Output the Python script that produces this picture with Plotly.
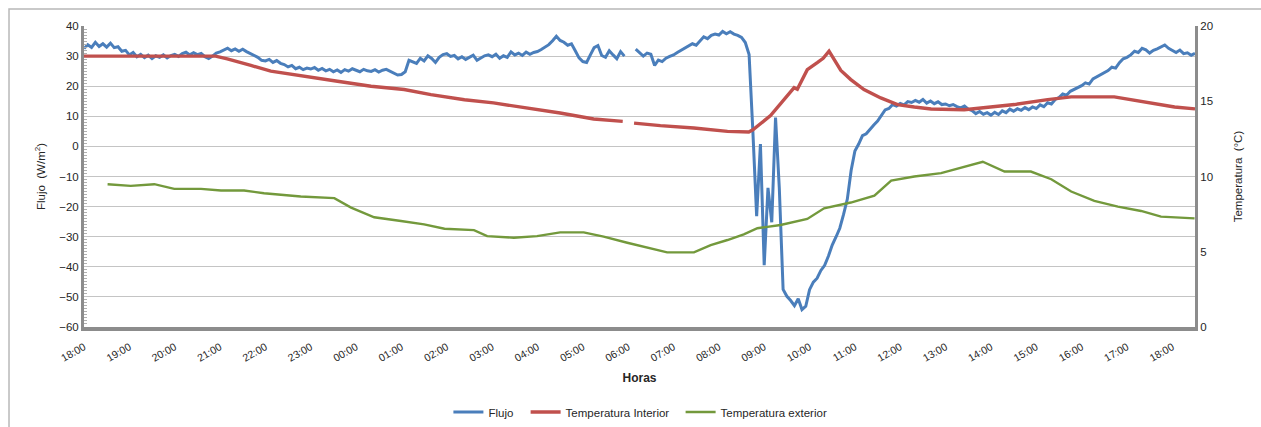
import plotly.graph_objects as go

# Etiquetas horarias del eje X (una por hora, desde las 18:00 hasta las 18:00 del día siguiente)
tick_labels = ["18:00", "19:00", "20:00", "21:00", "22:00", "23:00", "00:00", "01:00",
               "02:00", "03:00", "04:00", "05:00", "06:00", "07:00", "08:00", "09:00",
               "10:00", "11:00", "12:00", "13:00", "14:00", "15:00", "16:00", "17:00", "18:00"]

# Flujo de calor (W/m²): una lectura cada 5 minutos a partir de las 18:00
flujo = [
    # 18:00
    32.5, 33.8, 32.9, 34.6, 33.2, 34.1, 33.0, 34.3, 32.8, 33.1, 31.6, 31.9,
    # 19:00
    30.4, 31.2, 29.8, 30.6, 29.5, 30.3, 29.2, 30.1, 29.6, 30.4, 29.4, 30.2,
    # 20:00
    30.6, 29.9, 30.8, 31.3, 30.4, 31.1, 30.5, 30.9, 29.8, 29.2, 30.0, 31.0,
    # 21:00
    31.4, 32.1, 32.6, 31.8, 32.4, 31.6, 32.3, 31.5, 30.9, 30.2, 29.6, 28.6,
    # 22:00
    28.4, 28.9, 27.9, 28.5, 27.6, 27.2, 26.4, 26.9, 25.8, 26.3, 25.5, 26.0,
    # 23:00
    25.7, 26.2, 25.3, 25.9, 25.1, 25.6, 24.8, 25.4, 24.6, 25.5, 25.0, 25.8,
    # 00:00
    25.2, 24.8, 25.6, 25.1, 24.9, 25.5, 24.7, 25.3, 25.6, 24.9, 24.4, 23.7,
    # 01:00
    23.9, 24.8, 28.6, 28.2, 27.6, 29.3, 28.4, 30.1, 29.2, 27.9, 29.6, 30.5,
    # 02:00
    30.8, 29.9, 30.2, 29.1, 29.8, 28.9, 29.6, 30.3, 28.6, 29.5, 30.1, 30.4,
    # 03:00
    29.8, 30.6, 29.3, 30.1, 29.6, 31.4, 30.4, 31.0, 30.2, 31.3, 30.6, 31.2,
    # 04:00
    31.5, 32.2, 32.9, 33.8, 35.1, 36.6, 35.2, 34.6, 33.6, 34.1, 31.8, 29.4,
    # 05:00
    28.2, 27.9, 30.4, 32.8, 33.5, 30.2, 29.6, 31.8, 30.4, 29.1, 31.5, 30.0,
    # 06:00 (sin registro en los primeros minutos)
    None, None, 32.3, 31.2, 30.0, 31.0, 30.6, 26.9, 28.7, 28.2, 29.3, 29.9,
    # 07:00
    30.4, 31.2, 31.9, 32.6, 33.2, 34.1, 33.6, 35.2, 36.4, 35.8, 36.9, 37.3,
    # 08:00
    37.0, 38.2, 37.4, 38.1, 37.3, 36.9, 36.2, 34.5, 30.5, 5.0, -23.2, 0.8,
    # 09:00
    -39.5, -13.8, -25.2, 9.6, -14.0, -47.5, -49.8, -51.2, -52.9, -50.6, -54.2, -53.1,
    # 10:00
    -47.6, -45.1, -43.8, -41.2, -39.5, -36.4, -32.8, -30.1, -27.2, -22.6, -17.5, -8.0,
    # 11:00
    -1.5, 0.8, 3.6, 4.2, 5.8, 7.1, 8.4, 10.2, 12.1, 12.6, 13.9, 13.4,
    # 12:00
    14.3, 13.8, 14.9, 14.6, 15.3, 14.7, 15.6, 14.4, 15.1, 14.2, 14.8, 13.9,
    # 13:00
    14.1, 13.5, 13.9, 13.2, 12.8, 13.4, 12.4, 11.9, 10.9, 11.6, 10.7, 11.2,
    # 14:00
    10.4, 11.3, 10.6, 11.8, 11.2, 12.4, 11.7, 12.5, 12.0, 12.9, 12.2, 13.1,
    # 15:00
    12.6, 13.8, 13.2, 14.5, 14.1, 15.6, 16.2, 17.4, 17.0, 18.3, 18.9, 19.6,
    # 16:00
    20.2, 21.1, 20.7, 22.4, 23.1, 23.8, 24.6, 25.2, 26.3, 26.0, 27.8, 29.1,
    # 17:00
    29.6, 30.4, 31.6, 31.2, 32.6, 32.1, 31.0, 31.9, 32.4, 33.1, 33.7, 32.6,
    # 18:00
    31.8, 31.2, 32.0, 30.8, 31.1, 30.3, 30.9,
]
flujo_h = [i / 12 for i in range(len(flujo))]  # horas desde las 18:00

# Temperatura interior (°C): horas desde las 18:00 y valor
t_int_h = [0, 1, 2, 2.9, 3.16, 3.4, 3.68, 4.12, 4.71, 5.2, 5.59, 6.33, 7.06, 7.65, 8.39,
           9.03, 9.77, 10.5, 11.24, 11.88, 12.0, 12.13, 12.71, 13.45, 14.19, 14.66, 14.75,
           15.14, 15.66, 15.73, 15.95, 16.17, 16.3, 16.43, 16.6, 16.69, 16.91, 17.2, 17.57,
           17.94, 18.31, 18.68, 19.41, 19.78, 20.52, 21.25, 21.77, 22.72, 23.09, 23.53,
           24.05, 24.5]
t_int = [18.0, 18.0, 18.0, 18.0, 17.82, 17.6, 17.38, 17.0, 16.71, 16.5, 16.33, 16.0, 15.78,
         15.44, 15.1, 14.89, 14.56, 14.22, 13.82, 13.66, None, 13.55, 13.38, 13.22, 13.0,
         12.96, 13.1, 14.05, 15.9, 15.8, 17.1, 17.56, 17.85, 18.33, 17.45, 17.05, 16.44,
         15.78, 15.22, 14.78, 14.62, 14.49, 14.44, 14.56, 14.78, 15.11, 15.29, 15.29, 15.11,
         14.84, 14.62, 14.49]

# Temperatura exterior (°C): horas desde las 18:00 y valor
t_ext_h = [0.52, 1.03, 1.55, 1.99, 2.58, 3.02, 3.53, 3.97, 4.78, 5.52, 5.89, 6.40, 6.99, 7.5,
           7.95, 8.39, 8.6, 8.89, 9.48, 9.99, 10.5, 11.02, 11.46, 11.98, 12.42, 12.86, 13.45,
           13.82, 14.19, 14.55, 14.85, 15.36, 15.95, 16.32, 16.91, 17.43, 17.8, 18.31, 18.9,
           19.41, 19.82, 20.3, 20.88, 21.33, 21.77, 22.28, 22.8, 23.31, 23.75, 24.49]
t_ext = [9.49, 9.38, 9.49, 9.18, 9.18, 9.07, 9.07, 8.89, 8.67, 8.56, 7.93, 7.29, 7.04, 6.82,
         6.53, 6.44, 6.44, 6.04, 5.93, 6.04, 6.29, 6.29, 6.0, 5.6, 5.27, 4.96, 4.96, 5.44,
         5.78, 6.16, 6.56, 6.78, 7.18, 7.89, 8.27, 8.73, 9.73, 10.0, 10.22, 10.67, 10.98,
         10.33, 10.33, 9.82, 9.0, 8.38, 8.0, 7.71, 7.33, 7.22]

BLUE = "#4a7ebb"
RED = "#c0504d"
GREEN = "#73993c"
AXIS = "#8c8c8c"
TXT = "#262626"
FONT = "Liberation Sans, Arial, sans-serif"

fig = go.Figure()
fig.add_trace(go.Scatter(x=flujo_h, y=flujo, name="Flujo", mode="lines",
                         line=dict(color=BLUE, width=3), connectgaps=False,
                         legend="legend"))
fig.add_trace(go.Scatter(x=t_int_h, y=t_int, name="Temperatura Interior", mode="lines",
                         line=dict(color=RED, width=3.4), connectgaps=False, yaxis="y2",
                         legend="legend2"))
fig.add_trace(go.Scatter(x=t_ext_h, y=t_ext, name="Temperatura exterior", mode="lines",
                         line=dict(color=GREEN, width=2.4), yaxis="y2",
                         legend="legend3"))

legend_style = dict(orientation="h", y=-0.2824, yanchor="middle", xanchor="left",
                    font=dict(size=11.5, color=TXT), itemwidth=30,
                    bgcolor="rgba(0,0,0,0)")

fig.update_layout(
    width=1261, height=427,
    margin=dict(l=84, r=66, t=26, b=100, autoexpand=False),
    plot_bgcolor="white", paper_bgcolor="white",
    font=dict(family=FONT, size=11.5, color=TXT),
    showlegend=True,
    legend=dict(x=0.328, **legend_style),
    legend2=dict(x=0.3975, **legend_style),
    legend3=dict(x=0.537, **legend_style),
    xaxis=dict(range=[0, 24.5], tickmode="array", tickvals=list(range(25)),
               ticktext=tick_labels, tickangle=-30, showgrid=False, zeroline=False,
               showline=True, linecolor=AXIS, linewidth=4, ticks="",
               ticklabelstandoff=6, tickfont=dict(size=10.5),
               automargin=False,
               title=dict(text="<b>Horas</b>", font=dict(size=12, color=TXT),
                          standoff=12)),
    yaxis=dict(range=[-60, 40], dtick=10, showgrid=True, gridcolor="#c4c4c4", gridwidth=1.4,
               zeroline=False, showline=True, linecolor=AXIS, linewidth=3,
               ticks="", tickfont=dict(size=11.5), automargin=False,
               minor=dict(ticks="inside", ticklen=3, tickcolor="#b0b0b0", dtick=1,
                          showgrid=False),
               title=dict(text="Flujo  (W/m<sup>2</sup>)", font=dict(size=11.5, color=TXT),
                          standoff=12)),
    yaxis2=dict(range=[0, 20], dtick=5, overlaying="y", side="right", showgrid=False,
                zeroline=False, showline=True, linecolor=AXIS, linewidth=3, ticks="",
                tickfont=dict(size=11.5), automargin=False,
                title=dict(text="Temperatura  (°C)", font=dict(size=11.5, color=TXT),
                           standoff=22)),
)

# Marco exterior del gráfico
fig.add_shape(type="path", xref="paper", yref="paper",
              path="M -0.0675 -0.35 L -0.0675 1.0565 L 1.07 1.0565",
              line=dict(color="#b8b8b8", width=1.5))

fig.write_html("out.html")
